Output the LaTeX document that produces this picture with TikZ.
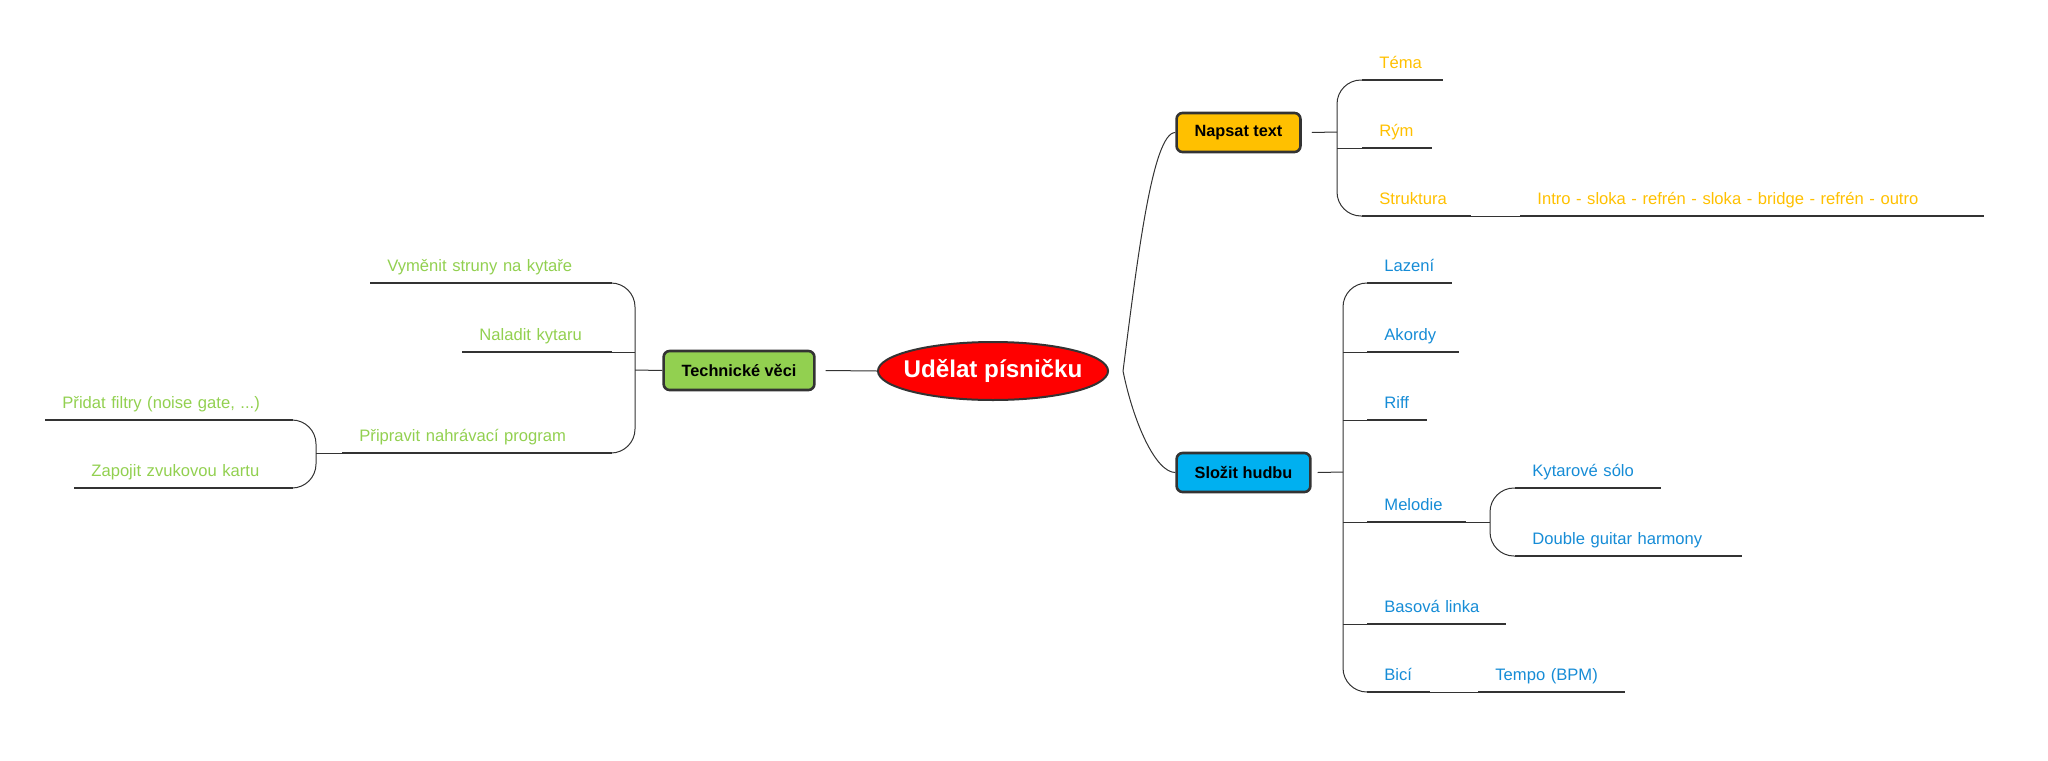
\documentclass[tikz,border=0pt]{standalone}
\usepackage{fontspec}
\setmainfont{Liberation Sans}
\usetikzlibrary{shapes.geometric}
\definecolor{node_gray}{RGB}{51,51,51}
\definecolor{node_red}{RGB}{255,0,0}
\definecolor{node_orange}{RGB}{255,192,0}
\definecolor{node_blue}{RGB}{0,176,240}
\definecolor{node_green}{RGB}{146,208,80}
\definecolor{text_blue}{RGB}{22,140,214}

\begin{document}
\begin{tikzpicture}[x=0.5pt,y=-0.5pt]
    \tikzstyle{link}=[draw=node_gray, line width=0.5pt, rounded corners=12pt]
    \tikzstyle{topic}=[draw=node_gray, line width=1.3pt, rounded corners=3pt, minimum height=19.5pt, inner xsep=9pt, text=black, font=\bfseries\fontsize{8.15}{10}\selectfont]
    \tikzstyle{root}=[ellipse, draw=node_gray, line width=1pt, fill=node_red, minimum width=115pt, minimum height=29pt, inner xsep=-4.05pt, inner ysep=0pt, text=white, font=\bfseries\fontsize{12.1}{14}\selectfont]
    \tikzstyle{leaf}=[anchor=south west, align=left, inner xsep=8.5pt, inner ysep=2.5pt, text height=6pt, text depth=3.2pt, font=\fontsize{8.3}{10}\selectfont, append after command={(\tikzlastnode.south west) edge[draw=node_gray, line width=0.8pt] (\tikzlastnode.south east)}]
    \tikzstyle{ly}=[style=leaf, text=node_orange]
    \tikzstyle{mu}=[style=leaf, text=text_blue]
    \tikzstyle{te}=[style=leaf, text=node_green]

    \useasboundingbox (0,0) rectangle (2048,760);

    \node[root]                   (song)   at (993,371)     {Udělat písničku};
    \node[topic,fill=node_orange] (lyrics) at (1238.5,132.5) {Napsat text};
    \node[topic,fill=node_blue]   (music)  at (1243.5,472.5) {Složit hudbu};
    \node[topic,fill=node_green]  (tech)   at (739,370.5)    {Technické věci};

    \node[ly,text width=23pt]    (tema)  at (1362,80)  {Téma};
    \node[ly,text width=17.5pt]  (rym)   at (1362,148) {Rým};
    \node[ly,text width=37pt]    (struk) at (1362,216) {Struktura};
    \node[ly,text width=214.5pt] (intro) at (1520,216) {Intro - sloka - refrén - sloka - bridge - refrén - outro};

    \node[mu,text width=25pt]   (lazeni)  at (1367,283) {Lazení};
    \node[mu,text width=28.5pt] (akordy)  at (1367,352) {Akordy};
    \node[mu,text width=12.5pt] (riff)    at (1367,420) {Riff};
    \node[mu,text width=32pt]   (melodie) at (1367,522) {Melodie};
    \node[mu,text width=52pt]   (basa)    at (1367,624) {Basová linka};
    \node[mu,text width=14pt]   (bici)    at (1367,692) {Bicí};
    \node[mu,text width=55.5pt] (solo)    at (1515,488) {Kytarové sólo};
    \node[mu,text width=96pt]   (harmony) at (1515,556) {Double guitar harmony};
    \node[mu,text width=56pt]   (tempo)   at (1478,692) {Tempo (BPM)};

    \node[te,text width=103.5pt] (struny)  at (370,283) {Vyměnit struny na kytaře};
    \node[te,text width=57.5pt]  (ladit)   at (462,352) {Naladit kytaru};
    \node[te,text width=117.5pt] (program) at (342,453) {Připravit nahrávací program};
    \node[te,text width=106.5pt] (filtry)  at (45,420)  {Přidat filtry (noise gate, ...)};
    \node[te,text width=92pt]    (karta)   at (74,488)  {Zapojit zvukovou kartu};

    \coordinate (fork) at ([xshift=7pt]song.east);
    \coordinate (lb) at (1337,132);
    \coordinate (mb) at (1343,472);
    \coordinate (sb) at (1490,522);
    \coordinate (tb) at (635,370);
    \coordinate (pb) at (316,453);

    \draw[link] (fork) .. controls +(14,-109) and +(-23,0) .. (lyrics.west);
    \draw[link] (fork) .. controls +(10,50) and +(-20,0) .. (music.west);
    \draw[link] (tema.south west) -| (struk.south west -| lb) -- (struk.south west);
    \draw[link] (lazeni.south west) -| (bici.south west -| mb) -- (bici.south west);
    \draw[link] (solo.south west) -| (harmony.south west -| sb) -- (harmony.south west);
    \draw[link] (struny.south east) -| (program.south east -| tb) -- (program.south east);
    \draw[link] (filtry.south east) -| (karta.south east -| pb) -- (karta.south east);
    \path
     ([xshift=5pt]lyrics.east) edge[link] (lb)
     (rym.south west) edge[link] (rym.south west -| lb)
     (struk.south east) edge[link] (intro.south west)
     ([xshift=3pt]music.east) edge[link] (mb)
     (akordy.south west) edge[link] (akordy.south west -| mb)
     (riff.south west) edge[link] (riff.south west -| mb)
     (melodie.south west) edge[link] (melodie.south west -| mb)
     (basa.south west) edge[link] (basa.south west -| mb)
     (melodie.south east) edge[link] (sb)
     (bici.south east) edge[link] (tempo.south west)
     ([xshift=5pt]tech.east) edge[link] (song.west)
     (tech.west) edge[link] (tb)
     (ladit.south east) edge[link] (ladit.south east -| tb)
     (program.south west) edge[link] (pb)
     ;
\end{tikzpicture}
\end{document}
